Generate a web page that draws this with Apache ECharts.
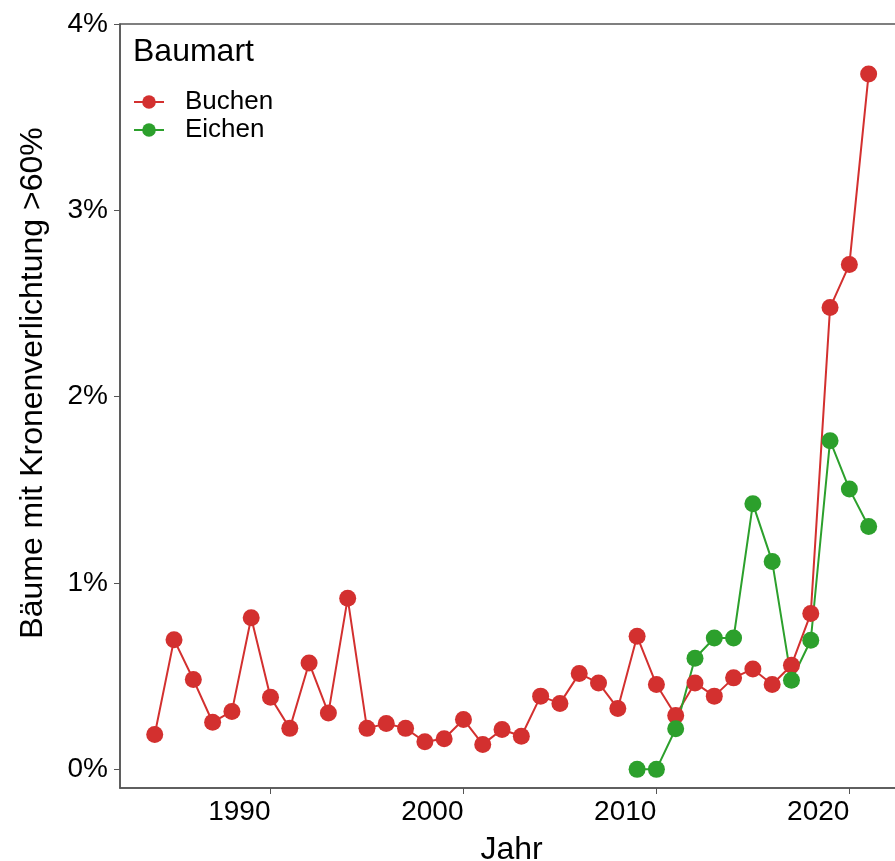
<!DOCTYPE html>
<html><head><meta charset="utf-8">
<script src="https://cdn.jsdelivr.net/npm/echarts@6/dist/echarts.min.js"></script>
<style>html,body{margin:0;padding:0;background:#fff}#c{width:895px;height:861px}</style>
</head><body><div id="c"></div>
<script>
const yearsBuchen = [1984,1985,1986,1987,1988,1989,1990,1991,1992,1993,1994,1995,1996,1997,1998,1999,2000,2001,2002,2003,2004,2005,2006,2007,2008,2009,2010,2011,2012,2013,2014,2015,2016,2017,2018,2019,2020,2021];
const buchen = [0.187,0.696,0.482,0.253,0.311,0.814,0.387,0.220,0.571,0.302,0.918,0.220,0.246,0.220,0.148,0.164,0.268,0.134,0.214,0.178,0.393,0.354,0.514,0.464,0.327,0.714,0.455,0.289,0.464,0.393,0.491,0.539,0.455,0.559,0.836,2.478,2.709,3.732];
const yearsEichen = [2009,2010,2011,2012,2013,2014,2015,2016,2017,2018,2019,2020,2021];
const eichen = [0,0,0.218,0.596,0.705,0.705,1.425,1.116,0.478,0.693,1.764,1.504,1.303];
const xTicks = [1990,2000,2010,2020];
const yTicks = [0,1,2,3,4];
const seriesNames = ['Buchen','Eichen'];
const colors = ['#d3302f','#2ca02c'];

const font = 'Liberation Sans, Arial, sans-serif';
const chart = echarts.init(document.getElementById('c'));
const mk = (xs, ys) => xs.map((x,i)=>[x, ys[i]]);
chart.setOption({
  animation:false,
  color: colors,
  grid:{left:120, right:-8, top:24, bottom:73, show:true, borderColor:'#555', borderWidth:1.5, containLabel:false, outerBoundsMode:'none'},
  title:{text:'Baumart', left:128, top:31, textStyle:{fontFamily:font, fontSize:32, fontWeight:'normal', color:'#000'}},
  legend:{left:128, top:84, orient:'vertical', itemWidth:30, itemHeight:17, itemGap:2,
    textStyle:{fontFamily:font, fontSize:26, color:'#000', padding:[0,0,0,16]}, data:seriesNames},
  xAxis:{type:'value', min:1982.2, max:2022.78,
    name:'Jahr', nameLocation:'middle', nameGap:46, nameTextStyle:{fontFamily:font, fontSize:32, color:'#000'},
    splitLine:{show:false},
    axisLine:{onZero:false, lineStyle:{color:'#555', width:1.5}},
    axisTick:{customValues:xTicks, length:6, lineStyle:{color:'#555'}},
    axisLabel:{customValues:xTicks, align:'right', margin:10, fontFamily:font, fontSize:28, color:'#000', formatter:v=>String(v)}},
  yAxis:{type:'value', min:-0.1, max:4.0,
    splitLine:{show:false},
    axisLine:{show:true, onZero:false, lineStyle:{color:'#555', width:1.5}},
    axisTick:{show:true, customValues:yTicks, length:6, lineStyle:{color:'#555'}},
    axisLabel:{customValues:yTicks, margin:12, fontFamily:font, fontSize:28, color:'#000', formatter:v=>v+'%'}},
  graphic:[{type:'text', x:33, y:383, rotation:Math.PI/2,
    style:{text:'Bäume mit Kronenverlichtung >60%', font:'32px '+font, fill:'#000', textAlign:'center', textVerticalAlign:'middle'}}],
  series:[
    {name:seriesNames[0], type:'line', data:mk(yearsBuchen,buchen), symbol:'circle', symbolSize:17, lineStyle:{width:2}, itemStyle:{color:colors[0]}},
    {name:seriesNames[1], type:'line', data:mk(yearsEichen,eichen), symbol:'circle', symbolSize:17, lineStyle:{width:2}, itemStyle:{color:colors[1]}}
  ]
});
</script></body></html>
